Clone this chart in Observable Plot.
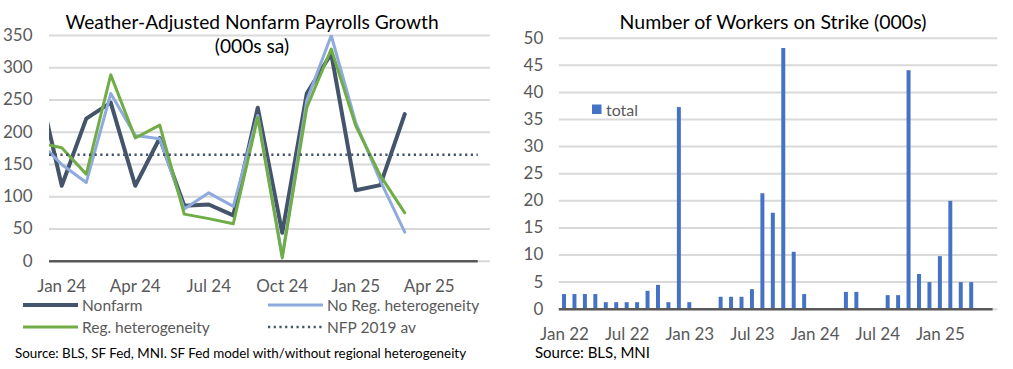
<!DOCTYPE html>
<html>
<head>
<meta charset="utf-8">
<script src="https://cdn.jsdelivr.net/npm/d3@7"></script>
<script src="https://cdn.jsdelivr.net/npm/@observablehq/plot@0.6"></script>
<style>
  html, body { margin: 0; padding: 0; background: #fff; }
  #wrap { position: relative; width: 1013px; height: 369px; overflow: hidden; font-family: Lato, "Open Sans", sans-serif; }
  .abs { position: absolute; left: 0; top: 0; }
</style>
</head>
<body>
<div id="wrap"></div>
<script>
// ---------- Left chart data (monthly, index 0 = Jan 24) ----------
const nfpMonths = ["Dec 23","Jan 24","Feb 24","Mar 24","Apr 24","May 24","Jun 24","Jul 24","Aug 24","Sep 24","Oct 24","Nov 24","Dec 24","Jan 25","Feb 25","Mar 25"];
const nonfarm   = [283, 117, 221, 246, 117, 191, 86, 88, 71, 238, 44, 260, 322, 110, 118, 228];
const noRegHet  = [188, 150, 122, 260, 195, 190, 81, 106, 85, 226, 8, 249, 350, 215, 125, 45];
const regHet    = [184, 176, 135, 289, 191, 211, 73, 66, 58, 223, 5, 238, 329, 210, 133, 75];
const nfp2019av = 165;
const leftTickIdx = [0, 3, 6, 9, 12, 15];
const leftTickLabels = ["Jan 24", "Apr 24", "Jul 24", "Oct 24", "Jan 25", "Apr 25"];
const leftYTicks = [0, 50, 100, 150, 200, 250, 300, 350];

// ---------- Right chart data (monthly, index 0 = Jan 22) ----------
const strikeValues = [
  2.7, 2.7, 2.7, 2.7, 1.2, 1.2, 1.2, 1.2, 3.3, 4.4, 1.2, 37.2,
  1.2, 0, 0, 2.2, 2.2, 2.2, 3.6, 21.3, 17.7, 48.1, 10.5, 2.7,
  0, 0, 0, 3.1, 3.1, 0, 0, 2.5, 2.5, 44.0, 6.4, 4.9,
  9.7, 19.9, 4.9, 4.9
];
const rightTickIdx = [0, 6, 12, 18, 24, 30, 36];
const rightTickLabels = ["Jan 22", "Jul 22", "Jan 23", "Jul 23", "Jan 24", "Jul 24", "Jan 25"];
const rightYTicks = [0, 5, 10, 15, 20, 25, 30, 35, 40, 45, 50];

const C = { dark: "#44546A", blue: "#8FAADC", green: "#70AD47", bar: "#4472C4", grid: "#D9D9D9", axis: "#595959", tick: "#595959" };

const toSeries = arr => arr.map((v, k) => ({ i: k - 1, v, m: nfpMonths[k] }));
const sNonfarm = toSeries(nonfarm), sNoReg = toSeries(noRegHet), sReg = toSeries(regHet);

const wrap = document.getElementById("wrap");

const left = Plot.plot({
  width: 500, height: 369,
  marginTop: 35, marginBottom: 108.3, marginLeft: 49, marginRight: 10,
  style: { fontFamily: "Lato, sans-serif", fontSize: "17px", color: C.tick, background: "transparent" },
  x: { type: "linear", domain: [-0.5, 17.5] },
  y: { domain: [0, 350] },
  marks: [
    Plot.ruleY(leftYTicks, { stroke: C.grid, strokeWidth: 2 }),
    Plot.ruleY([0], { x1: -0.5, x2: 17, stroke: C.axis, strokeWidth: 2.4 }),
    Plot.line(sNonfarm, { x: "i", y: "v", stroke: C.dark, strokeWidth: 4, clip: true }),
    Plot.line(sNoReg, { x: "i", y: "v", stroke: C.blue, strokeWidth: 3, clip: true }),
    Plot.line(sReg, { x: "i", y: "v", stroke: C.green, strokeWidth: 3, clip: true }),
    Plot.ruleY([nfp2019av], { x1: -0.5, x2: 17, stroke: C.dark, strokeWidth: 2.5, strokeDasharray: "2.2,3.5" }),
    Plot.axisY({ ticks: leftYTicks, tickSize: 0, tickPadding: 17, fontSize: 17, label: null }),
    Plot.axisX({ ticks: leftTickIdx, tickFormat: d => leftTickLabels[leftTickIdx.indexOf(d)], tickSize: 0, tickPadding: 19, fontSize: 17, label: null })
  ]
});
left.classList.add("abs");
left.style.left = "0px";
wrap.appendChild(left);

const bars = strikeValues.map((v, i) => ({ i, v }));
const right = Plot.plot({
  width: 513, height: 369,
  marginTop: 37.7, marginBottom: 60.3, marginLeft: 58.8, marginRight: 15.7,
  style: { fontFamily: "Lato, sans-serif", fontSize: "17px", color: C.tick, background: "transparent" },
  x: { type: "linear", domain: [-0.5, 41.5] },
  y: { domain: [0, 50] },
  marks: [
    Plot.ruleY(rightYTicks, { stroke: C.grid, strokeWidth: 2 }),
    Plot.rectY(bars, { x1: d => d.i - 0.19, x2: d => d.i + 0.19, y: "v", fill: C.bar }),
    Plot.ruleY([0], { x1: -0.5, x2: 41.05, stroke: C.axis, strokeWidth: 2.4 }),
    Plot.axisY({ ticks: rightYTicks, tickSize: 0, tickPadding: 16, fontSize: 17, label: null }),
    Plot.axisX({ ticks: rightTickIdx, tickFormat: d => rightTickLabels[rightTickIdx.indexOf(d)], tickSize: 0, tickPadding: 19, fontSize: 17, label: null })
  ]
});
right.classList.add("abs");
right.style.left = "500px";
wrap.appendChild(right);

// ---------- Overlay texts: titles, legends, sources ----------
const ov = d3.select(wrap).append("svg").attr("class", "abs")
  .attr("width", 1013).attr("height", 369)
  .style("font-family", "Lato, sans-serif").style("pointer-events", "none");

function txt(x, y, s, size, fill, anchor) {
  return ov.append("text").attr("x", x).attr("y", y).attr("dominant-baseline", "central")
    .attr("text-anchor", anchor || "start").attr("font-size", size).attr("fill", fill).text(s);
}
txt(252, 21, "Weather-Adjusted Nonfarm Payrolls Growth", 19.2, "#000", "middle");
txt(252, 45, "(000s sa)", 19.2, "#000", "middle");
txt(773, 21, "Number of Workers on Strike (000s)", 19.5, "#000", "middle");

// left legend
const legend = [
  { x: 23, y: 305, label: "Nonfarm", stroke: C.dark, w: 4, dash: null },
  { x: 268, y: 305, label: "No Reg. heterogeneity", stroke: C.blue, w: 3, dash: null },
  { x: 23, y: 327, label: "Reg. heterogeneity", stroke: C.green, w: 3, dash: null },
  { x: 268, y: 327, label: "NFP 2019 av", stroke: C.dark, w: 2.5, dash: "2.2,3.5" }
];
legend.forEach(l => {
  const ln = ov.append("line").attr("x1", l.x).attr("x2", l.x + 55).attr("y1", l.y).attr("y2", l.y)
    .attr("stroke", l.stroke).attr("stroke-width", l.w);
  if (l.dash) ln.attr("stroke-dasharray", l.dash);
  txt(l.x + 59, l.y, l.label, 15.5, C.tick);
});

// right legend
ov.append("rect").attr("x", 592).attr("y", 104.5).attr("width", 9.5).attr("height", 9.5).attr("fill", C.bar);
txt(606, 109, "total", 16, C.tick);

// sources
txt(15, 353, "Source: BLS, SF Fed, MNI. SF Fed model with/without regional heterogeneity", 13.4, "#000");
txt(535, 352, "Source: BLS, MNI", 15, "#000");
</script>
</body>
</html>
